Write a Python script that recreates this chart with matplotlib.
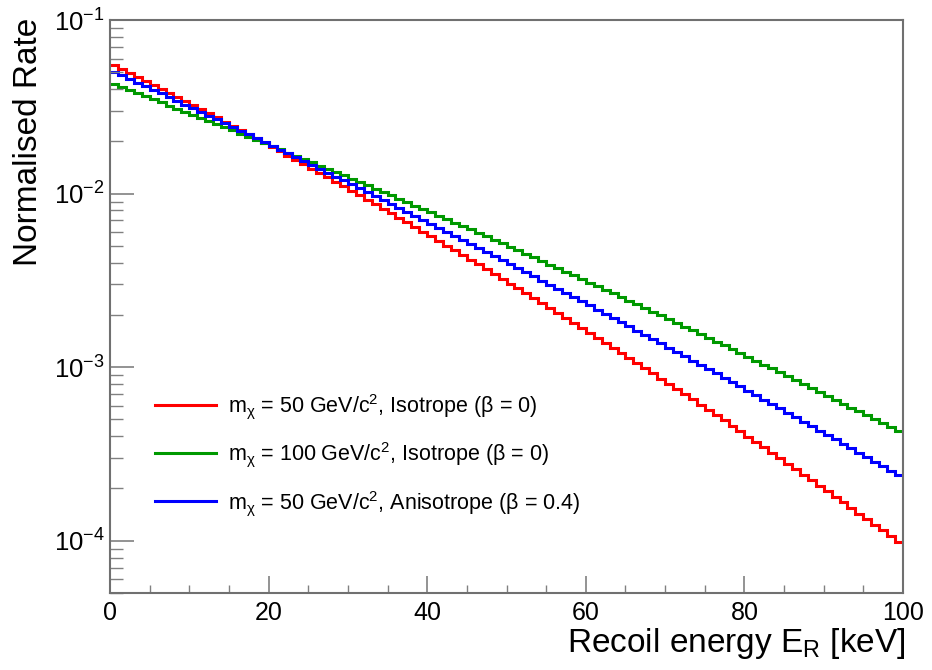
import numpy as np
import matplotlib.pyplot as plt
from matplotlib.ticker import FixedLocator, NullFormatter

plt.rcParams['font.family'] = ['Liberation Sans', 'DejaVu Sans']
plt.rcParams['mathtext.fontset'] = 'custom'
plt.rcParams['mathtext.rm'] = 'Liberation Sans'
plt.rcParams['mathtext.it'] = 'Liberation Sans:italic'
plt.rcParams['mathtext.bf'] = 'Liberation Sans:bold'
plt.rcParams['mathtext.default'] = 'regular'

# 1 keV bins from 0 to 100 keV
bin_edges = np.arange(0, 101, 1)

# m_chi = 50 GeV, isotropic halo
rate_50_iso = [
    0.05505, 0.05225, 0.04959, 0.04706, 0.04463, 0.04233, 0.04013, 0.03805, 0.03605, 0.03416,
    0.03235, 0.03065, 0.02901, 0.02745, 0.02598, 0.02458, 0.02325, 0.02199, 0.02078, 0.01964,
    0.01857, 0.01754, 0.01656, 0.01564, 0.01476, 0.01393, 0.01315, 0.01240, 0.01170, 0.01103,
    0.01040, 0.009797, 0.009233, 0.008695, 0.008189, 0.007709, 0.007258, 0.006830, 0.006426, 0.006044,
    0.005684, 0.005343, 0.005022, 0.004720, 0.004433, 0.004164, 0.003911, 0.003671, 0.003445, 0.003233,
    0.003033, 0.002844, 0.002667, 0.002500, 0.002343, 0.002195, 0.002056, 0.001926, 0.001803, 0.001688,
    0.001580, 0.001478, 0.001382, 0.001293, 0.001209, 0.001130, 0.001056, 0.0009863, 0.0009213, 0.0008602,
    0.0008031, 0.0007495, 0.0006996, 0.0006525, 0.0006086, 0.0005674, 0.0005291, 0.0004931, 0.0004594, 0.0004280,
    0.0003986, 0.0003711, 0.0003454, 0.0003215, 0.0002991, 0.0002782, 0.0002588, 0.0002406, 0.0002236, 0.0002078,
    0.0001931, 0.0001793, 0.0001665, 0.0001546, 0.0001435, 0.0001332, 0.0001236, 0.0001146, 0.0001062, 0.00009849,
]

# m_chi = 100 GeV, isotropic halo
rate_100_iso = [
    0.04260, 0.04094, 0.03934, 0.03779, 0.03631, 0.03488, 0.03349, 0.03216, 0.03088, 0.02964,
    0.02845, 0.02730, 0.02620, 0.02514, 0.02411, 0.02313, 0.02218, 0.02127, 0.02039, 0.01955,
    0.01874, 0.01796, 0.01721, 0.01649, 0.01580, 0.01513, 0.01449, 0.01388, 0.01329, 0.01272,
    0.01218, 0.01165, 0.01115, 0.01067, 0.01021, 0.009764, 0.009337, 0.008928, 0.008537, 0.008163,
    0.007803, 0.007456, 0.007125, 0.006808, 0.006505, 0.006213, 0.005933, 0.005666, 0.005410, 0.005165,
    0.004931, 0.004706, 0.004491, 0.004285, 0.004088, 0.003899, 0.003719, 0.003547, 0.003381, 0.003224,
    0.003074, 0.002929, 0.002791, 0.002660, 0.002534, 0.002414, 0.002299, 0.002189, 0.002084, 0.001985,
    0.001889, 0.001798, 0.001711, 0.001628, 0.001549, 0.001474, 0.001401, 0.001333, 0.001267, 0.001205,
    0.001146, 0.001089, 0.001035, 0.0009831, 0.0009341, 0.0008874, 0.0008428, 0.0008004, 0.0007600, 0.0007216,
    0.0006850, 0.0006501, 0.0006170, 0.0005855, 0.0005555, 0.0005270, 0.0004998, 0.0004740, 0.0004495, 0.0004262,
]

# m_chi = 50 GeV, anisotropic halo (beta = 0.4)
rate_50_aniso = [
    0.05042, 0.04805, 0.04579, 0.04364, 0.04158, 0.03961, 0.03773, 0.03593, 0.03422, 0.03258,
    0.03102, 0.02952, 0.02811, 0.02675, 0.02545, 0.02422, 0.02304, 0.02191, 0.02084, 0.01982,
    0.01885, 0.01792, 0.01703, 0.01619, 0.01539, 0.01462, 0.01389, 0.01320, 0.01254, 0.01191,
    0.01131, 0.01074, 0.01020, 0.009681, 0.009190, 0.008722, 0.008275, 0.007852, 0.007450, 0.007068,
    0.006703, 0.006358, 0.006028, 0.005716, 0.005419, 0.005137, 0.004869, 0.004614, 0.004372, 0.004142,
    0.003924, 0.003717, 0.003520, 0.003333, 0.003156, 0.002988, 0.002829, 0.002677, 0.002534, 0.002398,
    0.002269, 0.002146, 0.002030, 0.001920, 0.001816, 0.001717, 0.001623, 0.001535, 0.001450, 0.001371,
    0.001295, 0.001224, 0.001157, 0.001092, 0.001032, 0.0009743, 0.0009201, 0.0008685, 0.0008200, 0.0007741,
    0.0007305, 0.0006895, 0.0006505, 0.0006138, 0.0005789, 0.0005460, 0.0005150, 0.0004856, 0.0004578, 0.0004316,
    0.0004069, 0.0003836, 0.0003614, 0.0003406, 0.0003209, 0.0003023, 0.0002847, 0.0002681, 0.0002525, 0.0002377,
]

series_labels = [
    r'm$_{\chi}$ = 50 GeV/c$^{2}$, Isotrope ($\beta$ = 0)',
    r'm$_{\chi}$ = 100 GeV/c$^{2}$, Isotrope ($\beta$ = 0)',
    r'm$_{\chi}$ = 50 GeV/c$^{2}$, Anisotrope ($\beta$ = 0.4)',
]
series_colors = ['#ff0000', '#009900', '#0000ff']

y_major = [1e-4, 1e-3, 1e-2, 1e-1]
y_major_labels = [r'10$^{-4}$', r'10$^{-3}$', r'10$^{-2}$', r'10$^{-1}$']

fig = plt.figure(figsize=(9.32, 6.70), dpi=100)
ax = fig.add_axes([110 / 932, 77 / 670, 793 / 932, 573 / 670])

for vals, col, lab in zip([rate_50_iso, rate_100_iso, rate_50_aniso], series_colors, series_labels):
    ax.stairs(vals, bin_edges, baseline=None, color=col, linewidth=2.2, label=lab)

ax.set_yscale('log')
ax.set_xlim(0, 100)
ax.set_ylim(5e-5, 0.1)

# ticks: inward, left and bottom only
ax.set_xticks([0, 20, 40, 60, 80, 100])
ax.set_xticks(np.arange(0, 101, 5), minor=True)
ax.yaxis.set_major_locator(FixedLocator(y_major))
ax.set_yticklabels(y_major_labels)
minors = [m * 10.0 ** e for e in range(-5, -1) for m in range(2, 10)]
ax.yaxis.set_minor_locator(FixedLocator([v for v in minors if 5e-5 <= v <= 0.1]))
ax.yaxis.set_minor_formatter(NullFormatter())

tick_col = '#808080'
ax.tick_params(axis='x', which='major', direction='in', length=12, width=1.2,
               color=tick_col, labelsize=18, pad=6, top=False)
ax.tick_params(axis='x', which='minor', direction='in', length=6, width=1.0,
               color=tick_col, top=False)
ax.tick_params(axis='y', which='major', direction='in', length=17, width=1.2,
               color=tick_col, labelsize=18.5, pad=4, right=False)
ax.tick_params(axis='y', which='minor', direction='in', length=9, width=1.0,
               color=tick_col, right=False)

for sp in ax.spines.values():
    sp.set_color('#707070')
    sp.set_linewidth(1.5)

ax.set_xlabel(r'Recoil energy E$_{\mathrm{R}}$ [keV]', fontsize=24, loc='right')
ax.xaxis.set_label_coords(1.003, -0.058)
ax.set_ylabel('Normalised Rate', fontsize=24, loc='top')
ax.yaxis.set_label_coords(-0.083, 1.004)

ax.legend(handles=[plt.Line2D([], [], color=c, linewidth=2.2) for c in series_colors],
          labels=series_labels, loc='upper left', bbox_to_anchor=(0.0567, 0.351),
          frameon=False, fontsize=15.5, handlelength=2.85, handletextpad=0.55,
          labelspacing=0.9, borderpad=0.0, borderaxespad=0.0)

fig.savefig('out.png', dpi=100)
